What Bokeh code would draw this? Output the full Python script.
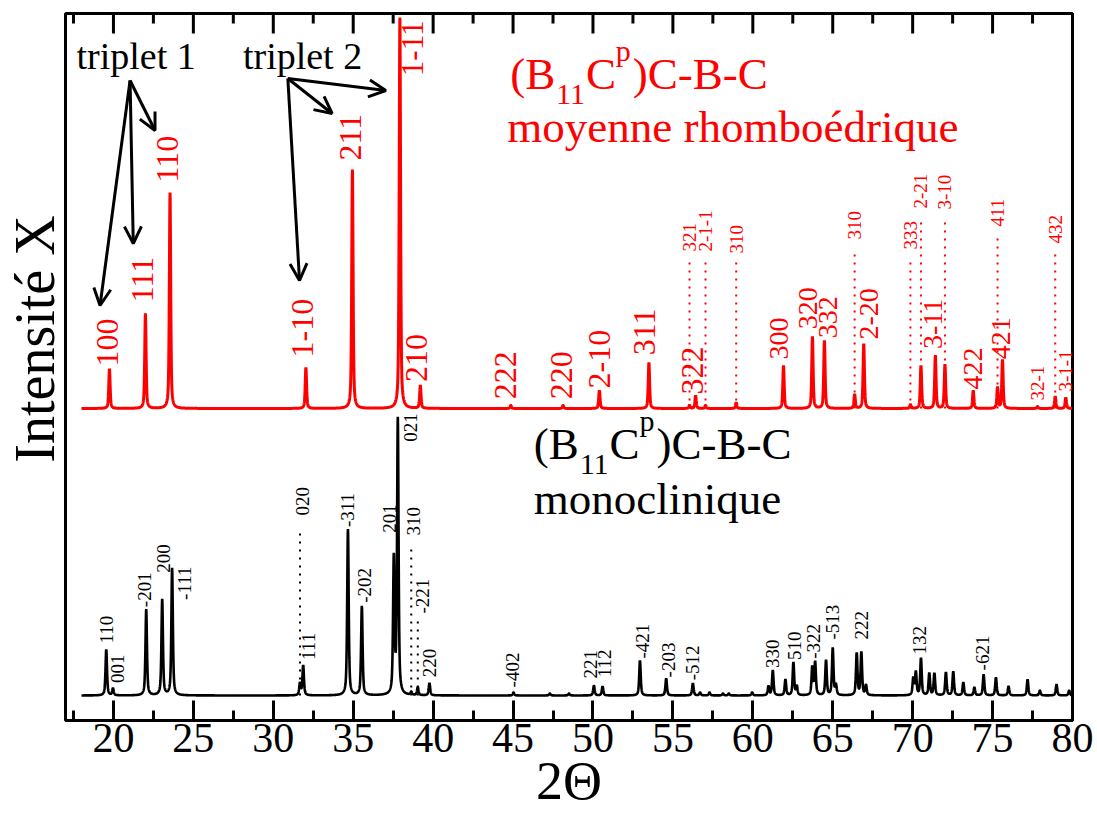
import numpy as np
from math import pi
from bokeh.plotting import figure
from bokeh.models import (Range1d, SingleIntervalTicker, FixedTicker,
                          Arrow, OpenHead, ColumnDataSource)
from bokeh.core.properties import value
from bokeh.embed import file_html
from bokeh.resources import INLINE

FONT = "Liberation Serif"
RED = "#ff0000"

# ---------------- data : monoclinic pattern (black), relative intensity (021 = 100)
mono_pos = [19.55, 19.97, 22.05, 23.05, 23.67, 31.67, 31.87, 34.67, 35.54, 37.54,
            37.79, 38.63, 39.04, 39.77, 45.03, 47.3, 48.5, 50.06, 50.6, 52.94,
            54.58, 56.25, 56.7, 57.29, 58.13, 58.5, 59.96, 60.98, 61.25, 62.04,
            62.54, 62.75, 63.72, 63.9, 64.58, 65.0, 65.2, 66.5, 66.79, 67.08,
            70.04, 70.2, 70.52, 71.04, 71.36, 72.08, 72.54, 73.17, 73.86, 74.44,
            75.21, 76.0, 77.19, 77.96, 79.0, 79.79]
mono_int = [16.7, 2.5, 31.3, 34.9, 46.2, 4.4, 10.9, 60.4, 32.4, 49.1,
            100.0, 1.1, 2.9, 4.4, 1.1, 0.7, 0.7, 3.6, 3.3, 12.7,
            6.2, 4.4, 1.1, 1.1, 0.7, 0.7, 1.1, 3.3, 9.1, 5.8,
            12.0, 3.3, 10.2, 12.0, 12.7, 17.1, 3.6, 15.3, 15.6, 3.6,
            6.2, 8.4, 13.5, 8.0, 8.0, 8.4, 8.7, 4.7, 2.9, 7.6,
            6.5, 3.3, 5.8, 1.8, 4.0, 1.8]

# ---------------- data : averaged rhombohedral pattern (red), relative intensity (1-11 = 100)
rh_pos = [19.75, 22.0, 23.54, 32.04, 34.95, 37.92, 39.2, 44.86, 48.13, 50.4,
          53.5, 56.04, 56.42, 57.04, 58.96, 61.92, 63.73, 64.48, 66.37, 66.94,
          69.86, 70.52, 71.42, 72.02, 73.79, 75.31, 75.62, 77.81, 78.92, 79.58]
rh_int = [10.2, 24.3, 55.2, 10.5, 61.1, 100.0, 5.9, 0.8, 0.8, 4.6,
          11.8, 0.8, 3.3, 0.8, 1.5, 11.0, 18.4, 17.4, 3.6, 16.6,
          1.0, 11.0, 13.6, 11.3, 4.6, 5.4, 12.5, 0.5, 3.1, 2.8]

# ---------------- reflection labels
rh_big_hkl = ["100", "111", "110", "1-10", "211", "210", "222", "220", "2-10", "311", "322"]
rh_big_at = [19.75, 22.0, 23.54, 32.04, 34.95, 39.2, 44.86, 48.13, 50.4, 53.5, 56.42]
rh_mid_hkl = ["300", "320", "332", "2-20", "3-11", "422", "421"]
rh_mid_at = [61.92, 63.73, 64.48, 66.94, 71.42, 73.79, 75.62]
rh_small_hkl = ["32-1", "3-1-1"]
rh_small_at = [77.81, 79.58]
rh_top_hkl = ["1-11"]
rh_top_at = [37.92]
rh_dot_hkl = ["321", "2-1-1", "310", "310", "333", "2-21", "3-10", "411", "432"]
rh_dot_at = [56.04, 57.04, 58.96, 66.37, 69.86, 70.52, 72.02, 75.31, 78.92]

mono_hkl = ["110", "001", "-201", "200", "-111", "111", "-311", "-202", "201", "021",
            "220", "-402", "221", "112", "-421", "-203", "-512", "330", "510", "-322",
            "-513", "222", "132", "-621"]
mono_at = [19.55, 19.97, 22.05, 23.05, 23.67, 31.87, 34.67, 35.54, 37.54, 37.79,
           39.77, 45.03, 50.06, 50.6, 52.94, 54.58, 56.25, 61.25, 62.54, 63.9,
           65.0, 66.79, 70.52, 74.44]
mono_dot_hkl = ["020", "310", "-221"]
mono_dot_at = [31.67, 38.63, 39.04]

x_min, x_max = 17, 80
xtick_step = 5

# ---------------- layout (screen pixels; 1 y-unit = 1 px)
PXD = 1010 / (x_max - x_min)     # pixels per degree
RH_BASE, RH_SCALE = 312.0, 3.91
MO_BASE, MO_SCALE = 25.0, 2.75
BASELINE_FIX = 0.3               # em correction for alphabetic baseline placement

rh_big_gap = [2, 11, 10, 10, 9, 3, 6, 6, 2, 7, 1]
rh_big_dx = [-2, -3, -3, -3, -2, -4, -5, -2, 0, -4, -3]
rh_mid_gap = [6, 7, 2, 4, 6, 1, 0]
rh_mid_dx = [-5, -4, 4, 5, -2, 0, -1]
rh_small_gap = [6, 6]
rh_dot_len = [148, 148, 146, 160, 150, 191, 190, 173, 156]
mono_gap = [6, 5, 2, 26, -32, 5, 2, 3, 20, -25, 6, 5, 7, 9, 2, 1, 3, 2, 2, 2, 8, 12, 3, 4]
mono_dx = [0, 5, -2, 1, 12, 5, 0, 3, -4, 13, 0, -1, -3, 2, 3, 2, 0, 0, 1, -2, 0, 0, -1, -1]
mono_dot_len = [168, 148, 77]
mono_dot_gap = [12, 12, 5]
mono_dot_dx = [3, 2, 5]

x = np.round(np.arange(18.0, 80.0001, 0.01), 4)


def pattern(pos, inten, hwhm, eta):
    y = np.zeros_like(x)
    for p0, i0 in zip(pos, inten):
        d = (x - p0) / hwhm
        y += i0 * (eta / (1 + d * d) + (1 - eta) * np.exp(-np.log(2) * d * d))
    return y


rh_curve = RH_BASE + RH_SCALE * pattern(rh_pos, rh_int, 0.05, 0.55)
mo_curve = MO_BASE + MO_SCALE * pattern(mono_pos, mono_int, 0.055, 0.6)


def top_at(curve, at):
    out = []
    for a in at:
        m = (x > a - 0.04) & (x < a + 0.04)
        out.append(float(curve[m].max()))
    return out


p = figure(width=1095, height=813, x_range=Range1d(x_min, x_max), y_range=Range1d(0, 707),
           output_backend="svg", toolbar_location=None,
           min_border_left=62, min_border_right=23, min_border_top=13, min_border_bottom=93,
           background_fill_color="white", border_fill_color="white")
p.outline_line_color = "black"
p.outline_line_width = 3
p.xgrid.visible = False
p.ygrid.visible = False

ax = p.xaxis[0]
ax.ticker = SingleIntervalTicker(interval=xtick_step, num_minor_ticks=2)
ax.axis_line_width = 3
ax.major_tick_in = 20
ax.major_tick_out = 0
ax.minor_tick_in = 10
ax.minor_tick_out = 0
ax.major_tick_line_width = 3
ax.minor_tick_line_width = 3
ax.major_label_text_font = FONT
ax.major_label_text_font_size = "42px"
ax.major_label_text_color = "black"
ax.major_label_standoff = 3
ax.axis_label = "2Θ"
ax.axis_label_text_font = FONT
ax.axis_label_text_font_size = "54px"
ax.axis_label_text_font_style = "normal"
ax.axis_label_text_color = "black"
ax.axis_label_standoff = -4

ay = p.yaxis[0]
ay.ticker = FixedTicker(ticks=[])
ay.axis_line_color = None
ay.major_tick_out = 0
ay.major_tick_in = 0
ay.minor_tick_out = 0
ay.minor_tick_in = 0
ay.axis_label = "\u00a0\u00a0\u00a0\u00a0Intensité X"
ay.axis_label_text_font = FONT
ay.axis_label_text_font_size = "56px"
ay.axis_label_text_font_style = "normal"
ay.axis_label_text_color = "black"
ay.axis_label_standoff = 0

# inward ticks along the top edge of the frame
major_t = list(range(20, x_max + 1, xtick_step))
minor_t = [t - xtick_step / 2 for t in major_t]
p.segment(x0=major_t, y0=[707] * len(major_t), x1=major_t, y1=[687] * len(major_t),
          line_color="black", line_width=3)
p.segment(x0=minor_t, y0=[707] * len(minor_t), x1=minor_t, y1=[697] * len(minor_t),
          line_color="black", line_width=3)

# curves
p.line(x, rh_curve, line_color=RED, line_width=3)
p.line(x, mo_curve, line_color="black", line_width=2.6)

# dotted marker lines
p.segment(x0=rh_dot_at, y0=[RH_BASE] * len(rh_dot_at), x1=rh_dot_at,
          y1=[RH_BASE + h for h in rh_dot_len], line_color=RED, line_width=2, line_dash="2 6")
p.segment(x0=mono_dot_at, y0=[MO_BASE] * len(mono_dot_at), x1=mono_dot_at,
          y1=[MO_BASE + h for h in mono_dot_len], line_color="black", line_width=2, line_dash="2 6")


def vlabels(hkl, xs, ys, color, size, align="left"):
    src = ColumnDataSource(dict(x=xs, y=ys, t=hkl))
    p.text(x="x", y="y", text="t", source=src, angle=pi / 2, text_align=align,
           text_baseline="middle", text_font=value(FONT), text_font_size=size,
           text_color=color)


t = top_at(rh_curve, rh_big_at)
vlabels(rh_big_hkl, [a + d / PXD for a, d in zip(rh_big_at, rh_big_dx)],
        [v + g for v, g in zip(t, rh_big_gap)], RED, "32px")
t = top_at(rh_curve, rh_mid_at)
vlabels(rh_mid_hkl, [a + d / PXD for a, d in zip(rh_mid_at, rh_mid_dx)],
        [v + g for v, g in zip(t, rh_mid_gap)], RED, "28px")
t = top_at(rh_curve, rh_small_at)
vlabels(rh_small_hkl, rh_small_at, [v + g for v, g in zip(t, rh_small_gap)], RED, "19px")
vlabels(rh_top_hkl, [a + 13 / PXD for a in rh_top_at], [700], RED, "31px", align="right")
vlabels(rh_dot_hkl, rh_dot_at, [RH_BASE + h + 9 for h in rh_dot_len], RED, "19px")

t = top_at(mo_curve, mono_at)
vlabels(mono_hkl, [a + d / PXD for a, d in zip(mono_at, mono_dx)],
        [v + g for v, g in zip(t, mono_gap)], "black", "19px")
vlabels(mono_dot_hkl, [a + d / PXD for a, d in zip(mono_dot_at, mono_dot_dx)],
        [MO_BASE + h + g for h, g in zip(mono_dot_len, mono_dot_gap)], "black", "19px")


def htext(xs, ys, texts, size, color):
    """horizontal text with its alphabetic baseline at ys (data units = px)"""
    p.text(x=xs, y=[v + BASELINE_FIX * size for v in ys], text=texts, text_align="left",
           text_baseline="alphabetic", text_font=value(FONT), text_font_size=f"{size}px",
           text_color=color)


# composite titles (B11Cp)C-B-C
def formula(x0, y0, color):
    parts = [("(B", 0, 0, 45), ("11", 46, -16, 30), ("C", 76, 0, 45),
             ("p", 106, 28, 30), (")C-B-C", 123, 0, 45)]
    for txt, dx, dy, sz in parts:
        htext([x0 + dx / PXD], [y0 + dy], [txt], sz, color)


formula(44.82, 633, RED)
htext([44.64], [580], ["moyenne rhomboédrique"], 45, RED)
formula(46.30, 263, "black")
htext([46.30], [208], ["monoclinique"], 45, "black")

# triplet annotations
htext([17.69, 28.1], [653, 653], ["triplet 1", "triplet 2"], 38, "black")
arrows = [((21.04, 640), (19.16, 415)), ((21.04, 640), (21.24, 477)), ((21.04, 640), (22.6, 590)),
          ((30.91, 642), (31.64, 440)), ((30.91, 642), (33.68, 607)), ((30.91, 642), (37.04, 630))]
for (xs, ys), (xe, ye) in arrows:
    p.add_layout(Arrow(end=OpenHead(size=17, line_width=3, line_color="black"),
                       x_start=xs, y_start=ys, x_end=xe, y_end=ye,
                       line_width=3, line_color="black"))

open("out.html", "w").write(file_html(p, INLINE))
